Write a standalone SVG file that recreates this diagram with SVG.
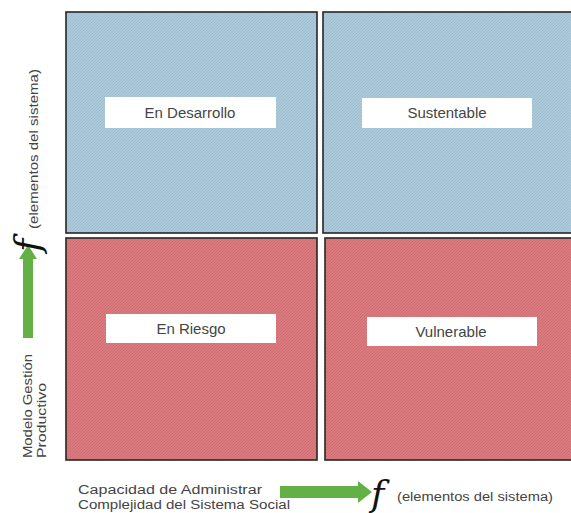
<svg xmlns="http://www.w3.org/2000/svg" width="571" height="513" viewBox="0 0 571 513">
<defs>
<pattern id="hb" width="3" height="3" patternUnits="userSpaceOnUse">
<rect width="3" height="3" fill="#adcadb"/>
<path d="M0,3 L3,0 M-1,1 L1,-1 M2,4 L4,2" stroke="#97b7ca" stroke-width="0.7"/>
</pattern>
<pattern id="hr" width="3" height="3" patternUnits="userSpaceOnUse">
<rect width="3" height="3" fill="#dc7b7f"/>
<path d="M0,3 L3,0 M-1,1 L1,-1 M2,4 L4,2" stroke="#c9676b" stroke-width="0.7"/>
</pattern>
</defs>
<style>
.q{stroke:#262626;stroke-width:1.6}
.lb{fill:#ffffff}
.t{font-family:"Liberation Sans",Arial,sans-serif;fill:#444444}
.lt{font-size:15px;text-anchor:middle}
.ax{font-size:12.5px}
.f{font-family:"DejaVu Serif","Liberation Serif",serif;font-style:italic;fill:#111}
.ar{fill:#62b046}
</style>
<rect width="571" height="513" fill="#ffffff"/>
<g id="en-desarrollo">
<rect class="q" x="66" y="12" width="251" height="221" fill="url(#hb)"/>
<rect class="lb" x="105" y="97" width="171" height="31"/>
<text class="t lt" x="190" y="118">En Desarrollo</text>
</g>
<g id="sustentable">
<rect class="q" x="323" y="12" width="252" height="221" fill="url(#hb)"/>
<rect class="lb" x="362" y="98" width="170" height="30"/>
<text class="t lt" x="447" y="118">Sustentable</text>
</g>
<g id="en-riesgo">
<rect class="q" x="66" y="238" width="251" height="222" fill="url(#hr)"/>
<rect class="lb" x="106" y="314" width="170" height="29"/>
<text class="t lt" x="191" y="334">En Riesgo</text>
</g>
<g id="vulnerable">
<rect class="q" x="325" y="238" width="252" height="222" fill="url(#hr)"/>
<rect class="lb" x="367" y="317" width="170" height="29"/>
<text class="t lt" x="451" y="337">Vulnerable</text>
</g>
<g id="connectors">
<path class="ar" d="M23,338 L23,259 L19,259 L28,245 L37,259 L33,259 L33,338 Z"/>
<path class="ar" d="M280,486 L358,486 L358,481 L372,492 L358,503 L358,498 L280,498 Z"/>
</g>
<g id="y-axis">
<text class="f" font-size="36" transform="translate(40,252) rotate(-90)">f</text>
<text class="t ax" transform="translate(38,229) rotate(-90)" textLength="160" lengthAdjust="spacingAndGlyphs">(elementos del sistema)</text>
<text class="t ax" transform="translate(32,458) rotate(-90)" textLength="104" lengthAdjust="spacingAndGlyphs">Modelo Gestión</text>
<text class="t ax" transform="translate(46,458) rotate(-90)" textLength="75" lengthAdjust="spacingAndGlyphs">Productivo</text>
</g>
<g id="x-axis">
<text class="t ax" x="78" y="494" textLength="184" lengthAdjust="spacingAndGlyphs">Capacidad de Administrar</text>
<text class="t ax" x="78" y="509" textLength="212" lengthAdjust="spacingAndGlyphs">Complejidad del Sistema Social</text>
<text class="f" font-size="36" x="371" y="506">f</text>
<text class="t ax" x="397" y="501" textLength="156" lengthAdjust="spacingAndGlyphs">(elementos del sistema)</text>
</g>
</svg>
